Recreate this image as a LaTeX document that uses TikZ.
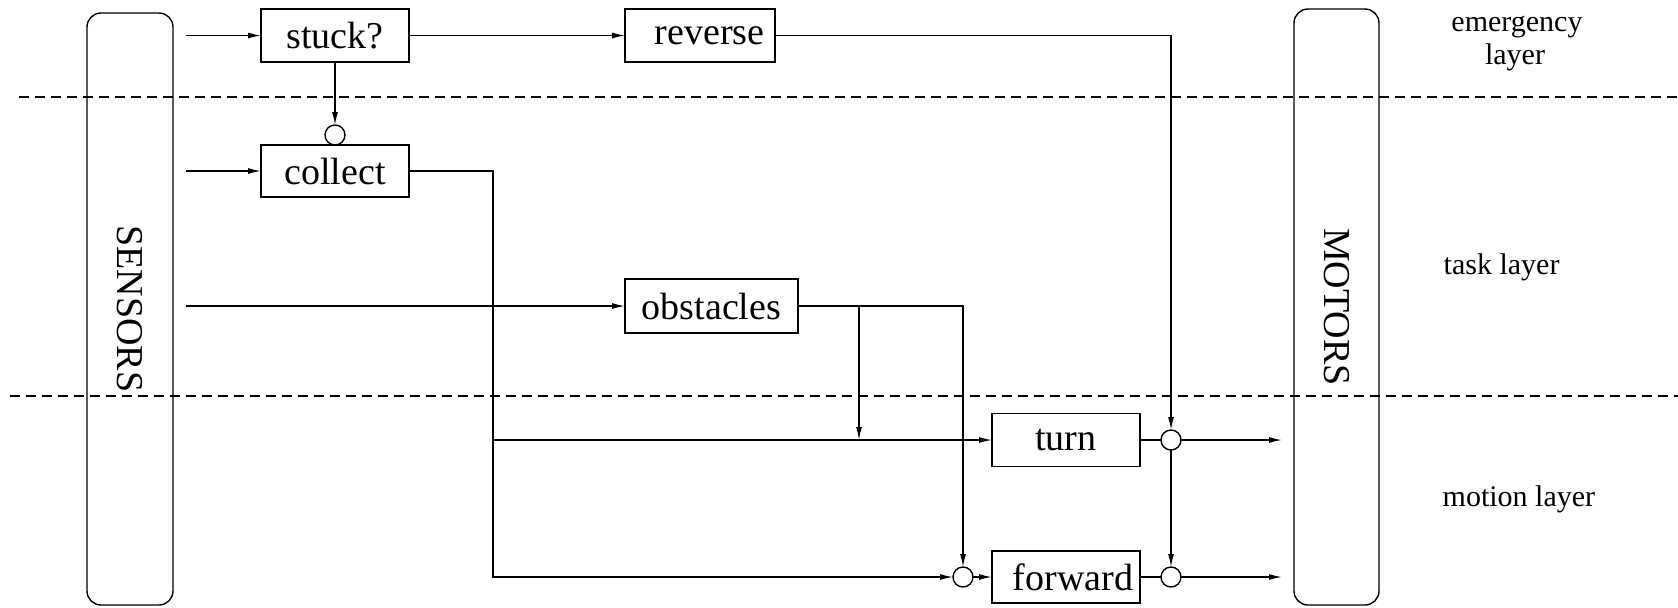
\documentclass[tikz,border=0pt]{standalone}
\usepackage{fontspec}
\setmainfont{Liberation Serif}
\usetikzlibrary{arrows.meta}
\begin{document}
\begin{tikzpicture}[x=0.5pt,y=-0.5pt,
  line width=0.7pt,
  blk/.style={draw, rectangle, inner sep=0pt, outer sep=0pt, font=\fontsize{19}{22}\selectfont},
  pillar/.style={draw, rectangle, rounded corners=7pt, inner sep=0pt, outer sep=0pt, rotate=-90, font=\fontsize{19}{22}\selectfont},
  circ/.style={draw, circle, minimum size=10pt, inner sep=0pt, outer sep=0pt},
  lbl/.style={font=\fontsize{15}{17}\selectfont, inner sep=0pt},
  arr/.style={-{Latex[length=6.5pt,width=3pt]}},
  sep/.style={dash pattern=on 5pt off 3pt}
]
\useasboundingbox (0,0) rectangle (1678,607);

% layer separators
\coordinate (s1a) at (19,97);
\coordinate (s1b) at (1678,97);
\coordinate (s2a) at (10,396);
\coordinate (s2b) at (1678,396);
\draw[sep] (s1a) -- (s1b);
\draw[sep] (s2a) -- (s2b);

% pillars
\node[pillar, minimum width=296pt, minimum height=43pt] (sensors) at (130,309) {SENSORS};
\node[pillar, minimum width=298pt, minimum height=42.5pt] (motors) at (1336.5,307) {MOTORS};

% boxes
\node[blk, minimum width=74pt, minimum height=26.5pt] (stuck) at (335,35.5) {stuck?};
\node[blk, minimum width=75pt, minimum height=26.5pt, inner xsep=5.3pt, text width=64.4pt, align=right] (reverse) at (700,35.5) {reverse};
\node[blk, minimum width=74pt, minimum height=26pt] (collect) at (335,171) {collect};
\node[blk, minimum width=86.5pt, minimum height=27pt] (obstacles) at (711.5,306) {obstacles};
\node[blk, minimum width=74pt, minimum height=26.5pt] (turn) at (1066,440) {turn};
\node[blk, minimum width=74pt, minimum height=26pt, inner xsep=3.5pt, text width=67pt, align=right] (forward) at (1066,577) {forward};

% suppression / inhibition nodes
\node[circ, anchor=south] (c1) at (collect.north) {};
\node[circ] (c2) at (963,577) {};
\node[circ] (c3) at (1171,440) {};
\node[circ] (c4) at (1171,577) {};

% free ends
\coordinate (i1) at (186,35.5);
\coordinate (i2) at (186,171);
\coordinate (i3) at (186,306);
\coordinate (jc) at (493,440);
\coordinate (jo) at (859,306);
\coordinate (jt) at (859,440);
\coordinate (o1) at (1282,440);
\coordinate (o2) at (1282,577);

% connectors
\draw[arr] (i1) -- (stuck);
\draw[arr] (i2) -- (collect);
\draw[arr] (i3) -- (obstacles);
\draw[arr] (stuck) -- (reverse);
\draw[arr] (stuck) -- (c1);
\draw[arr] (reverse.east) -| (c3.north);
\draw (collect.east) -| (jc);
\draw[arr] (jc) -- (turn.west);
\draw[arr] (jc) |- (c2.west);
\draw[arr] (obstacles.east) -| (c2.north);
\draw[arr] (jo) -- (jt);
\draw[arr] (c2) -- (forward);
\draw (turn) -- (c3);
\draw (forward) -- (c4);
\draw[arr] (c3) -- (c4);
\draw[arr] (c3) -- (o1);
\draw[arr] (c4) -- (o2);

% layer labels
\node[lbl, anchor=base] (lemerg) at (1517,31) {emergency};
\node[lbl, anchor=base] (lemerg2) at (1515,64) {layer};
\node[lbl, anchor=base west] (ltask) at (1443,274) {task layer};
\node[lbl, anchor=base west] (lmotion) at (1442,506) {motion layer};
\end{tikzpicture}
\end{document}
